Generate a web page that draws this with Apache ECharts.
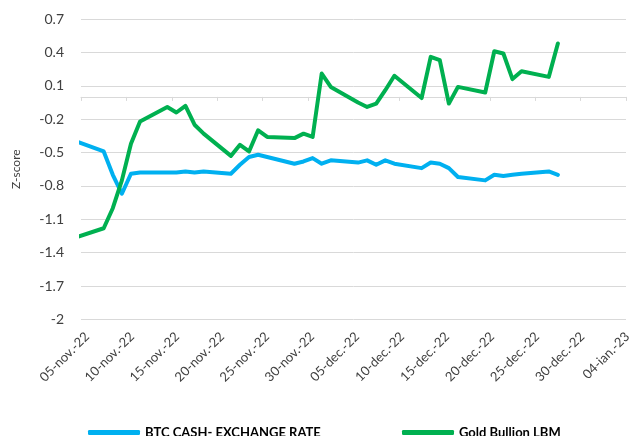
<!DOCTYPE html>
<html>
<head>
<meta charset="utf-8">
<script src="https://cdn.jsdelivr.net/npm/echarts@6/dist/echarts.min.js"></script>
<style>
	html, body { margin: 0; padding: 0; background: #fff; }
	#main { width: 634px; height: 436px; }
</style>
</head>
<body>
<div id="main"></div>
<script>
// business days (2022/2023)
var dates = ['2022-11-04', '2022-11-07', '2022-11-08', '2022-11-09', '2022-11-10', '2022-11-11',
	'2022-11-14', '2022-11-15', '2022-11-16', '2022-11-17', '2022-11-18',
	'2022-11-21', '2022-11-22', '2022-11-23', '2022-11-24', '2022-11-25',
	'2022-11-28', '2022-11-29', '2022-11-30', '2022-12-01', '2022-12-02',
	'2022-12-05', '2022-12-06', '2022-12-07', '2022-12-08', '2022-12-09',
	'2022-12-12', '2022-12-13', '2022-12-14', '2022-12-15', '2022-12-16',
	'2022-12-19', '2022-12-20', '2022-12-21', '2022-12-22', '2022-12-23',
	'2022-12-26', '2022-12-27'];
var btcCash = [-0.40, -0.49, -0.70, -0.87, -0.69, -0.68,
	-0.68, -0.68, -0.67, -0.68, -0.67,
	-0.69, -0.61, -0.54, -0.52, -0.54,
	-0.60, -0.58, -0.55, -0.60, -0.57,
	-0.59, -0.57, -0.61, -0.57, -0.60,
	-0.64, -0.59, -0.60, -0.64, -0.72,
	-0.75, -0.70, -0.71, -0.70, -0.69,
	-0.67, -0.70];
var goldBullion = [-1.26, -1.18, -1.00, -0.75, -0.42, -0.22,
	-0.09, -0.14, -0.08, -0.25, -0.33,
	-0.53, -0.43, -0.49, -0.30, -0.36,
	-0.37, -0.33, -0.36, 0.21, 0.09,
	-0.05, -0.09, -0.06, 0.06, 0.19,
	-0.01, 0.36, 0.33, -0.06, 0.09,
	0.04, 0.41, 0.39, 0.16, 0.23,
	0.18, 0.48];
var xTickLabels = ['05-nov.-22', '10-nov.-22', '15-nov.-22', '20-nov.-22', '25-nov.-22', '30-nov.-22',
	'05-dec.-22', '10-dec.-22', '15-dec.-22', '20-dec.-22', '25-dec.-22', '30-dec.-22', '04-ian.-23'];
var seriesNames = ['BTC CASH- EXCHANGE RATE', 'Gold Bullion LBM'];

var startDay = Date.UTC(2022, 10, 5);
var dayMs = 86400000;
var fontName = 'Lato';

// position of a date on the axis (days since 05-nov, point in middle of its day)
function dayPos(s) {
	var p = s.split('-');
	return (Date.UTC(+p[0], +p[1] - 1, +p[2]) - startDay) / dayMs + 0.5;
}
function pairs(vals) {
	return dates.map(function (d, i) { return [dayPos(d), vals[i]]; });
}

var chart = echarts.init(document.getElementById('main'));
var option = {
	animation: false,
	textStyle: { fontFamily: fontName },
	grid: [
		{ left: 81, right: 8, top: 19, bottom: 116.5 },
		// same plot nudged right, only carries the date labels
		{ left: 87, right: 2, top: 19, bottom: 116.5 }
	],
	xAxis: [
		{
			// axis line crossing at zero
			type: 'value',
			gridIndex: 0,
			min: 0,
			max: 60,
			interval: 5,
			axisLine: { onZero: true, lineStyle: { color: '#d9d9d9', width: 1 } },
			axisTick: { show: true, length: 4, lineStyle: { color: '#d9d9d9' } },
			axisLabel: { show: false },
			splitLine: { show: false }
		},
		{
			// labels at the bottom
			type: 'value',
			gridIndex: 1,
			position: 'bottom',
			min: 0,
			max: 60,
			interval: 5,
			axisLine: { show: false, onZero: false },
			axisTick: { show: false },
			splitLine: { show: false },
			axisLabel: {
				rotate: 45,
				margin: 15,
				fontSize: 13,
				color: '#404040',
				fontFamily: fontName,
				formatter: function (v) { return xTickLabels[Math.round(v / 5)]; }
			}
		}
	],
	yAxis: [
		{
			type: 'value',
			gridIndex: 0,
			min: -2,
			max: 0.7,
			interval: 0.3,
			name: 'Z-score',
			nameLocation: 'middle',
			nameRotate: 90,
			nameGap: 59,
			nameTextStyle: { fontSize: 12, color: '#404040', fontFamily: fontName },
			axisLine: { show: false },
			axisTick: { show: false },
			axisLabel: {
				margin: 17,
				fontSize: 14,
				color: '#404040',
				fontFamily: fontName,
				formatter: function (v) { return String(Number(v.toFixed(1))); }
			},
			splitLine: { lineStyle: { color: '#d9d9d9', width: 1 } }
		},
		{
			type: 'value',
			gridIndex: 1,
			min: -2,
			max: 0.7,
			show: false
		}
	],
	legend: [
		{
			data: [seriesNames[0]],
			left: 88,
			top: 426,
			padding: 0,
			icon: 'roundRect',
			itemWidth: 52,
			itemHeight: 5,
			itemGap: 5,
			textStyle: { fontSize: 13, fontWeight: 'bold', color: '#000', fontFamily: fontName }
		},
		{
			data: [seriesNames[1]],
			left: 402,
			top: 426,
			padding: 0,
			icon: 'roundRect',
			itemWidth: 52,
			itemHeight: 5,
			textStyle: { fontSize: 13, fontWeight: 'bold', color: '#000', fontFamily: fontName }
		}
	],
	series: [
		{
			name: seriesNames[0],
			type: 'line',
			data: pairs(btcCash),
			showSymbol: false,
			color: '#00b0f0',
			lineStyle: { width: 4, cap: 'round', join: 'round' }
		},
		{
			name: seriesNames[1],
			type: 'line',
			data: pairs(goldBullion),
			showSymbol: false,
			color: '#00b050',
			lineStyle: { width: 4, cap: 'round', join: 'round' }
		}
	]
};
chart.setOption(option);
</script>
</body>
</html>
